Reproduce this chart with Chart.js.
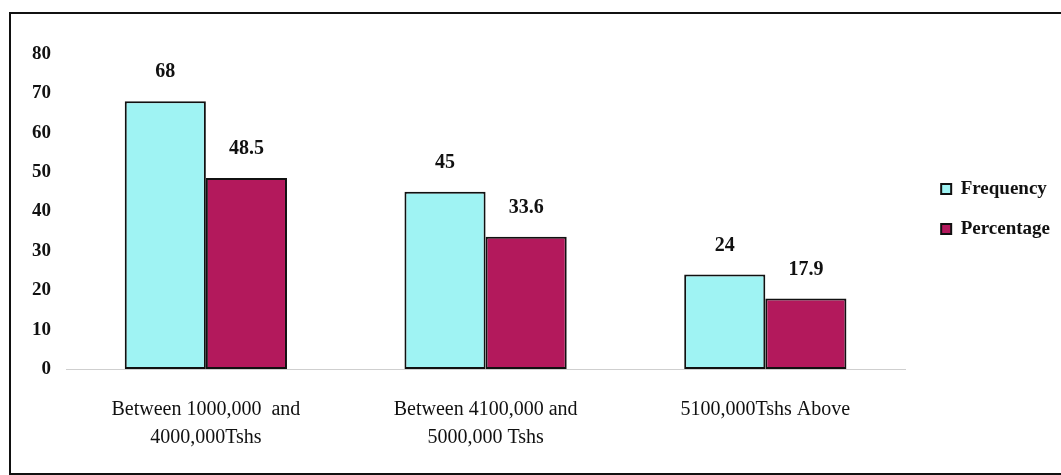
<!DOCTYPE html>
<html>
<head>
<meta charset="utf-8">
<script src="https://cdn.jsdelivr.net/npm/chart.js@4/dist/chart.umd.min.js"></script>
<style>
  body { margin: 0; background: #fff; }
  #frame {
    position: absolute; left: 9px; top: 12px;
    width: 1050px; height: 459px;
    border: 2px solid #111;
  }
  #wrap { position: relative; width: 1050px; height: 459px; }
</style>
</head>
<body>
<div id="frame"><div id="wrap"><canvas id="chart"></canvas></div></div>
<script>
// Kategoriat ja sarjat
const categories = [
  ['Between 1000,000  and', '4000,000Tshs'],
  ['Between 4100,000 and', '5000,000 Tshs'],
  ['5100,000Tshs Above']
];
const frequency = [68, 45, 24];
const percentage = [48.5, 33.6, 17.9];
const yTicks = [0, 10, 20, 30, 40, 50, 60, 70, 80];

const serif = '"Liberation Serif", "DejaVu Serif", serif';

// Arvot palkkien yläpuolelle
const valueLabels = {
  id: 'valueLabels',
  afterDatasetsDraw(chart) {
    const ctx = chart.ctx;
    ctx.save();
    ctx.font = 'bold 20px ' + serif;
    ctx.fillStyle = '#111';
    ctx.textAlign = 'center';
    ctx.textBaseline = 'middle';
    chart.data.datasets.forEach((ds, i) => {
      chart.getDatasetMeta(i).data.forEach((bar, j) => {
        ctx.fillText(String(ds.data[j]), bar.x, bar.y - 29);
      });
    });
    ctx.restore();
  }
};

// Selite hieman ylemmäs ja oikealle
const legendPlace = {
  id: 'legendPlace',
  afterLayout(chart) {
    const lg = chart.legend;
    if (!lg) return;
    const shiftX = 15;
    lg.left += shiftX;
    lg.right += shiftX;
    lg.top = 40;
    lg.bottom = 350;
  }
};

new Chart(document.getElementById('chart'), {
  type: 'bar',
  data: {
    labels: categories,
    datasets: [
      {
        label: 'Frequency',
        data: frequency,
        backgroundColor: '#9ff3f3',
        borderColor: '#111',
        borderWidth: 2,
        borderSkipped: false
      },
      {
        label: 'Percentage',
        data: percentage,
        backgroundColor: '#b3195c',
        borderColor: '#111',
        borderWidth: 2,
        borderSkipped: false
      }
    ]
  },
  options: {
    responsive: true,
    maintainAspectRatio: false,
    animation: false,
    layout: { padding: { top: 40, right: 16, left: 0, bottom: 10 } },
    datasets: { bar: { categoryPercentage: 0.58, barPercentage: 1.0 } },
    plugins: {
      legend: {
        position: 'right',
        labels: {
          boxWidth: 10,
          boxHeight: 10,
          padding: 21,
          color: '#111',
          font: { family: serif, size: 19, weight: 'bold' }
        }
      },
      tooltip: { enabled: false }
    },
    scales: {
      x: {
        grid: { display: false },
        border: { display: true, color: '#cfcfcf', dash: [3, 10] },
        afterFit: (scale) => { scale.height = 94; },
        ticks: {
          color: '#111',
          padding: 19,
          maxRotation: 0,
          font: { family: serif, size: 20, lineHeight: 1.4 }
        }
      },
      y: {
        min: 0,
        max: 80,
        afterBuildTicks: (scale) => { scale.ticks = yTicks.map(v => ({ value: v })); },
        afterFit: (scale) => { scale.width = 55; },
        grid: { display: false },
        border: { display: false },
        ticks: {
          color: '#111',
          padding: 7,
          font: { family: serif, size: 19, weight: 'bold' }
        }
      }
    }
  },
  plugins: [valueLabels, legendPlace]
});
</script>
</body>
</html>
